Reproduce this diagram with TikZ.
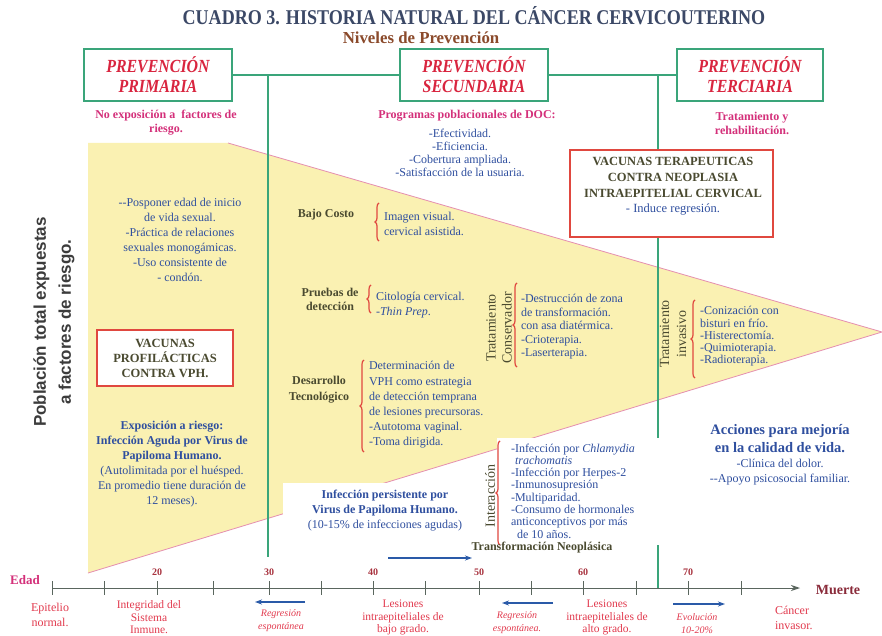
\documentclass[tikz,border=0pt]{standalone}
\usepackage{fontspec}
\setmainfont{Liberation Serif}
\newfontfamily\condfont[FakeStretch=0.86]{Liberation Serif}
\newfontfamily\sansbf{Liberation Sans}
\usetikzlibrary{decorations.pathreplacing,arrows.meta}
\definecolor{titleblue}{HTML}{3B4866}
\definecolor{subbrown}{HTML}{8B4A2B}
\definecolor{boxgreen}{HTML}{3AA57A}
\definecolor{hdrred}{HTML}{D9253F}
\definecolor{pinktxt}{HTML}{D4307A}
\definecolor{bluetxt}{HTML}{2F4F9F}
\definecolor{olive}{HTML}{4A4A30}
\definecolor{bracered}{HTML}{E0483F}
\definecolor{triyellow}{HTML}{FAF1B2}
\definecolor{triedge}{HTML}{E58FB0}
\definecolor{botred}{HTML}{E23A4E}
\definecolor{axisgrey}{HTML}{5A665E}
\definecolor{tickred}{HTML}{A8323E}
\definecolor{arrowblue}{HTML}{2A5AA8}
\definecolor{muerte}{HTML}{8A2B3A}
\definecolor{vgrey}{HTML}{3C3C3C}
\begin{document}
\begin{tikzpicture}[x=1pt,y=-1pt,
  every node/.style={inner sep=0pt,outer sep=0pt},
  hdrbox/.style={draw=boxgreen,line width=2pt,fill=white,minimum width=148pt,minimum height=52pt,align=center,text=hdrred,font=\condfont\bfseries\itshape\fontsize{18.5}{20}\selectfont},
  greenline/.style={draw=boxgreen,line width=1.4pt},
  pinklbl/.style={text=pinktxt,align=center,font=\bfseries\fontsize{12}{14}\selectfont},
  bluetext/.style={text=bluetxt,font=\fontsize{12}{15}\selectfont},
  olivelbl/.style={text=olive,align=center,font=\bfseries\fontsize{12}{15}\selectfont},
  vlabel/.style={text=olive,align=center,rotate=90,font=\fontsize{14}{16}\selectfont},
  redbox/.style={draw=bracered,line width=1.2pt,fill=white},
  bracestyle/.style={draw=bracered,line width=1.2pt,decorate,decoration={brace,amplitude=4pt}},
  axisline/.style={draw=axisgrey,line width=1pt},
  blarrow/.style={draw=arrowblue,line width=1.6pt,-{Stealth[length=7pt,width=5pt]}},
  botlbl/.style={text=botred,align=center,font=\fontsize{12}{15}\selectfont},
  botit/.style={text=botred,align=center,font=\itshape\fontsize{10}{13}\selectfont},
  ticklbl/.style={text=tickred,font=\bfseries\fontsize{10}{12}\selectfont}
]
\useasboundingbox (0,0) rectangle (882,636);
\fill[white] (0,0) rectangle (882,636);

% yellow population triangle
\fill[triyellow] (88,143) -- (228,143) -- (882,332) -- (88,573) -- cycle;
\draw[triedge,line width=0.8pt] (228,143) -- (882,332) -- (88,573);

% green connector lines
\coordinate (v1t) at (268,75);
\coordinate (v1b) at (268,557);
\coordinate (v2t) at (658,75);
\coordinate (v2b) at (658,589);
\draw[greenline] (v1t) -- (v1b);
\draw[greenline] (v2t) -- (v2b);

% white areas below the triangle
\fill[white] (283,483) rectangle (492,546);
\fill[white] (497,438) rectangle (666,545);

% header boxes
\node[hdrbox] (hp) at (158,75) {PREVENCIÓN\\PRIMARIA};
\node[hdrbox] (hs) at (474,75) {PREVENCIÓN\\SECUNDARIA};
\node[hdrbox,minimum width=146pt] (ht) at (750,75) {PREVENCIÓN\\TERCIARIA};
\draw[greenline] (hp.east) -- (hs.west);
\draw[greenline] (hs.east) -- (ht.west);

% title
\node[text=titleblue,font=\condfont\bfseries\fontsize{21}{22}\selectfont] (title) at (474,15.5) {CUADRO 3. HISTORIA NATURAL DEL CÁNCER CERVICOUTERINO};
\node[text=subbrown,font=\bfseries\fontsize{16.8}{20}\selectfont] (subt) at (421,38) {Niveles de Prevención};

% level subtitles
\node[pinklbl] (p1) at (166,123) {No exposición a\ \ factores de\\riesgo.};
\node[pinklbl] (p2) at (467,116) {Programas poblacionales de DOC:};
\node[pinklbl] (p3) at (752,123) {Tratamiento y\\rehabilitación.};
\node[bluetext,align=center,font=\fontsize{12}{13}\selectfont] (doc) at (460,152.5) {-Efectividad.\\-Eficiencia.\\-Cobertura ampliada.\\-Satisfacción de la usuaria.};

% left axis title
\node[text=vgrey,rotate=90,align=center,font=\sansbf\bfseries\fontsize{17}{25}\selectfont] (pob) at (54,322) {Población total expuestas\\a factores de riesgo.};

% primary prevention
\node[bluetext,align=center] (posp) at (180,239.5) {{-}{-}Posponer edad de inicio\\de vida sexual.\\-Práctica de relaciones\\sexuales monogámicas.\\-Uso consistente de\\- condón.};
\node[redbox,minimum width=136pt,minimum height=56pt,align=center,text=olive,font=\bfseries\fontsize{12.5}{15}\selectfont] (vacp) at (165,358) {VACUNAS\\PROFILÁCTICAS\\CONTRA VPH.};
\node[bluetext,align=center] (expo) at (172,464.5) {\textbf{Exposición a riesgo:}\\\textbf{Infección Aguda por Virus de}\\\textbf{Papiloma Humano.}\\(Autolimitada por el huésped.\\En promedio tiene duración de\\12 meses).};

% secondary prevention
\node[olivelbl] (bajo) at (326,215) {Bajo Costo};
\draw[bracestyle] (379,241) -- (379,203);
\node[bluetext,align=left,anchor=west] (imag) at (384,223.5) {Imagen visual.\\cervical asistida.};

\node[olivelbl,font=\bfseries\fontsize{12}{14}\selectfont] (prue) at (330,299) {Pruebas de\\detección};
\draw[bracestyle] (371,313) -- (371,285);
\node[bluetext,align=left,anchor=west] (cito) at (376,305.5) {Citología cervical.\\-\textit{Thin Prep}.};

\node[olivelbl,font=\bfseries\fontsize{12}{16}\selectfont] (desa) at (319,389.5) {Desarrollo\\Tecnológico};
\draw[bracestyle] (364,452) -- (364,360);
\node[bluetext,align=left,anchor=west,font=\fontsize{12}{15.2}\selectfont] (dete) at (369,405) {Determinación de\\VPH como estrategia\\de detección temprana\\de lesiones precursoras.\\-Autotoma vaginal.\\-Toma dirigida.};

\node[vlabel] (tcon) at (499,328) {Tratamiento\\Conservador};
\draw[bracestyle] (517,367) -- (517,283);
\node[bluetext,align=left,anchor=west,font=\fontsize{12}{13.5}\selectfont] (dest) at (521,327) {-Destrucción de zona\\de transformación.\\con asa diatérmica.\\-Crioterapia.\\-Laserterapia.};

% tertiary prevention
\node[redbox,minimum width=203pt,minimum height=87pt] (vtbox) at (671.5,193.5) {};
\node[align=center,text=olive,font=\bfseries\fontsize{12.5}{15.7}\selectfont] (vtxt) at (673,186.5) {VACUNAS TERAPEUTICAS\\CONTRA NEOPLASIA\\INTRAEPITELIAL CERVICAL\\\mdseries\color{bluetxt}- Induce regresión.};

\node[vlabel,font=\fontsize{14}{17}\selectfont] (tinv) at (673,334) {Tratamiento\\invasivo};
\draw[bracestyle] (695,378) -- (695,300);
\node[bluetext,align=left,anchor=west,font=\fontsize{12}{12.3}\selectfont] (coni) at (700,336.5) {-Conización con\\bisturi en frío.\\-Histerectomía.\\-Quimioterapia.\\-Radioterapia.};

\node[text=bluetxt,align=center,font=\bfseries\fontsize{14.5}{18}\selectfont] (acc1) at (780,439) {Acciones para mejoría\\en la calidad de vida.};
\node[bluetext,align=center,font=\fontsize{12}{14.5}\selectfont] (acc2) at (780,472) {-Clínica del dolor.\\{-}{-}Apoyo psicosocial familiar.};

% persistent infection & interaction
\node[text=bluetxt,align=center,font=\fontsize{12}{15}\selectfont] (pers) at (385,511) {\textbf{Infección persistente por}\\\textbf{Virus de Papiloma Humano.}\\(10-15\% de infecciones agudas)};
\node[vlabel] (inte) at (490,496) {Interacción};
\draw[bracestyle] (500,545) -- (500,441);
\node[bluetext,align=left,anchor=west,font=\fontsize{12}{12.3}\selectfont] (inter) at (511,491) {-Infección por \textit{Chlamydia}\\\hspace*{4pt}\textit{trachomatis}\\-Infección por Herpes-2\\-Inmunosupresión\\-Multiparidad.\\-Consumo de hormonales\\anticonceptivos por más\\\hspace*{6pt}de 10 años.};
\node[olivelbl] (tneo) at (542,548) {Transformación Neoplásica};
\coordinate (tna) at (388,558);
\coordinate (tnb) at (472,558);
\draw[blarrow] (tna) -- (tnb);

% age axis
\coordinate (ax0) at (52,588);
\coordinate (ax1) at (800,588);
\draw[axisline,-{Stealth[length=9pt,width=6pt]}] (ax0) -- (ax1);
\foreach \t in {52,104,157,213,269,321,373,425,479,531,583,636,688,741}
  \draw[axisline] (\t,581) -- (\t,595);
\node[ticklbl] (a20) at (157,572) {20};
\node[ticklbl] (a30) at (269,572) {30};
\node[ticklbl] (a40) at (373,572) {40};
\node[ticklbl] (a50) at (479,572) {50};
\node[ticklbl] (a60) at (583,572) {60};
\node[ticklbl] (a70) at (688,572) {70};
\node[text=pinktxt,font=\bfseries\fontsize{13}{15}\selectfont] (edad) at (25,580) {Edad};
\node[text=muerte,font=\bfseries\fontsize{14}{16}\selectfont] (muer) at (838,590) {Muerte};

% stages
\node[botlbl] (epit) at (50,615) {Epitelio\\normal.};
\node[botlbl,font=\fontsize{11.5}{12.5}\selectfont] (inte2) at (149,617.5) {Integridad del\\Sistema\\Inmune.};
\coordinate (r1a) at (305,602);
\coordinate (r1b) at (255,602);
\draw[blarrow] (r1a) -- (r1b);
\node[botit] (reg1) at (281,620.5) {Regresión\\espontánea};
\node[botlbl,font=\fontsize{11.5}{12.5}\selectfont] (lbg) at (403,617.5) {Lesiones\\intraepiteliales de\\bajo grado.};
\coordinate (r2a) at (553,603);
\coordinate (r2b) at (502,603);
\draw[blarrow] (r2a) -- (r2b);
\node[botit] (reg2) at (517,623) {Regresión\\espontánea.};
\node[botlbl,font=\fontsize{11.5}{12.5}\selectfont] (lag) at (607,617.5) {Lesiones\\intraepiteliales de\\alto grado.};
\coordinate (e1a) at (673,604);
\coordinate (e1b) at (725,604);
\draw[blarrow] (e1a) -- (e1b);
\node[botit] (evol) at (697,624) {Evolución\\10-20\%};
\node[botlbl,align=left,anchor=west] (canc) at (775,617.5) {Cáncer\\invasor.};
\end{tikzpicture}
\end{document}
